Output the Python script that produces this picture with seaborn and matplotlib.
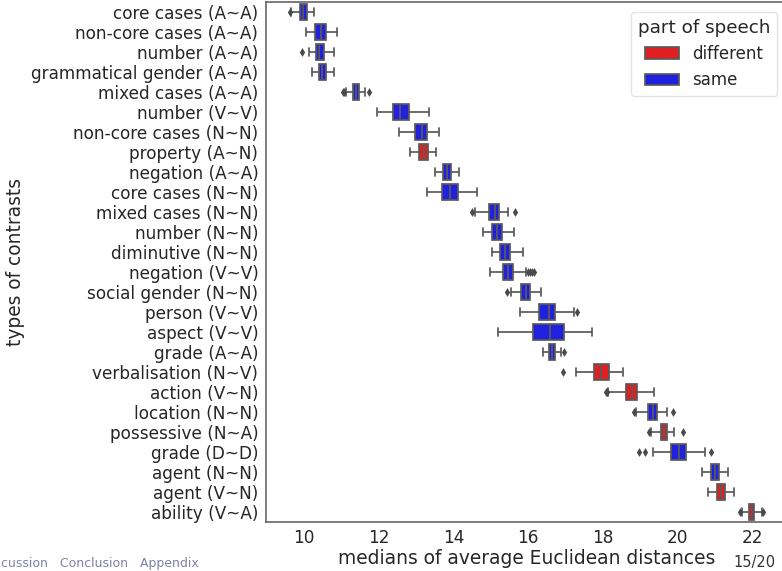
import numpy as np
import pandas as pd
import matplotlib
matplotlib.use("Agg")
import matplotlib.pyplot as plt
import seaborn as sns

categories = [
    "core cases (A~A)", "non-core cases (A~A)", "number (A~A)", "grammatical gender (A~A)",
    "mixed cases (A~A)", "number (V~V)", "non-core cases (N~N)", "property (A~N)",
    "negation (A~A)", "core cases (N~N)", "mixed cases (N~N)", "number (N~N)",
    "diminutive (N~N)", "negation (V~V)", "social gender (N~N)", "person (V~V)",
    "aspect (V~V)", "grade (A~A)", "verbalisation (N~V)", "action (V~N)",
    "location (N~N)", "possessive (N~A)", "grade (D~D)", "agent (N~N)",
    "agent (V~N)", "ability (V~A)",
]
part_of_speech = [
    "same", "same", "same", "same", "same", "same", "same", "different",
    "same", "same", "same", "same", "same", "same", "same", "same",
    "same", "same", "different", "different", "same", "different", "same", "same",
    "different", "different",
]
whisker_low = [9.65, 10.05, 10.13, 10.22, 11.12, 11.96, 12.54, 12.83, 13.50, 13.29, 14.58, 14.79,
               15.03, 14.98, 15.55, 15.79, 15.20, 16.39, 17.28, 18.15, 18.88, 19.29, 19.34, 20.65,
               20.81, 21.72]
q1 = [9.89, 10.30, 10.31, 10.40, 11.31, 12.37, 12.98, 13.07, 13.73, 13.70, 14.95, 15.04,
      15.25, 15.33, 15.82, 16.30, 16.13, 16.55, 17.75, 18.62, 19.22, 19.55, 19.83, 20.89,
      21.06, 21.91]
median = [9.98, 10.44, 10.41, 10.49, 11.38, 12.57, 13.15, 13.21, 13.83, 13.90, 15.10, 15.17,
          15.38, 15.46, 15.94, 16.55, 16.58, 16.63, 17.96, 18.77, 19.33, 19.64, 20.03, 21.00,
          21.16, 21.98]
q3 = [10.07, 10.58, 10.52, 10.59, 11.47, 12.80, 13.30, 13.33, 13.93, 14.13, 15.22, 15.31,
      15.52, 15.60, 16.05, 16.72, 16.95, 16.72, 18.17, 18.92, 19.46, 19.73, 20.22, 21.12,
      21.26, 22.05]
whisker_high = [10.27, 10.87, 10.79, 10.81, 11.63, 13.35, 13.62, 13.54, 14.16, 14.64, 15.47, 15.61,
                15.87, 15.95, 16.35, 17.24, 17.72, 16.88, 18.54, 19.36, 19.72, 19.91, 20.74, 21.36,
                21.50, 22.26]
outliers = [
    [9.61], [], [9.95], [], [11.04, 11.06, 11.73], [], [], [],
    [], [], [14.50, 15.66], [],
    [], [16.00, 16.05, 16.10, 16.16], [15.44], [17.32],
    [], [16.96], [16.93], [18.09, 18.11],
    [18.82, 19.88], [19.23, 20.14], [18.98, 19.12, 20.90], [],
    [], [21.68, 22.30],
]
x_ticks = [10, 12, 14, 16, 18, 20, 22]

rows = []
for cat, p, a, b, c, d, e in zip(categories, part_of_speech, whisker_low, q1, median, q3, whisker_high):
    for v in (a, b, c, d, e):
        rows.append({"contrast": cat, "value": v, "part of speech": p})
df = pd.DataFrame(rows)

flier_rows = []
for cat, vals in zip(categories, outliers):
    for v in vals:
        flier_rows.append({"contrast": cat, "value": v})
fliers = pd.DataFrame(flier_rows)

sns.set_theme(style="white")
plt.rcParams["font.family"] = ["DejaVu Sans"]

fig = plt.figure(figsize=(7.82, 5.71), dpi=100)
ax = fig.add_axes([266 / 782, 49 / 571, (787 - 266) / 782, 520 / 571])

line_gray = "#5a5a5a"
sns.boxplot(data=df, x="value", y="contrast", hue="part of speech",
            hue_order=["different", "same"], order=categories,
            palette={"different": "red", "same": "blue"}, saturation=0.75,
            dodge=False, whis=(0, 100), showfliers=False, width=0.82,
            linecolor=line_gray, linewidth=1.25, ax=ax)
sns.stripplot(data=fliers, x="value", y="contrast", order=categories, jitter=False,
              color="#4a4a4a", marker="d", size=4.5, linewidth=0, ax=ax)

ax.set_xlim(8.98, 22.93)
ax.set_ylim(len(categories) - 0.5, -0.5)
ax.set_xticks(x_ticks)
ax.tick_params(axis="x", labelsize=12.2, length=0, pad=5.3)
ax.tick_params(axis="y", labelsize=12.2, length=0, pad=5.5)
ax.set_xlabel("medians of average Euclidean distances", fontsize=13.4, labelpad=1)
ax.set_ylabel("types of contrasts", fontsize=13.4)
ax.yaxis.set_label_coords(-0.462, 0.5)
for s in ax.spines.values():
    s.set_color("#666666")
    s.set_linewidth(1.2)

leg = ax.legend(title="part of speech", loc="upper right", fontsize=12, title_fontsize=13.2,
                frameon=True, borderaxespad=0.6)
leg.get_frame().set_edgecolor("#dddddd")

fig.text(1 / 782, 7 / 571, "cussion   Conclusion   Appendix", fontsize=9, color="#8080a8",
         ha="left", va="center")
fig.text(776 / 782, 8 / 571, "15/20", fontsize=10.5, color="#333333", ha="right", va="center")

fig.savefig("out.png", dpi=100)
